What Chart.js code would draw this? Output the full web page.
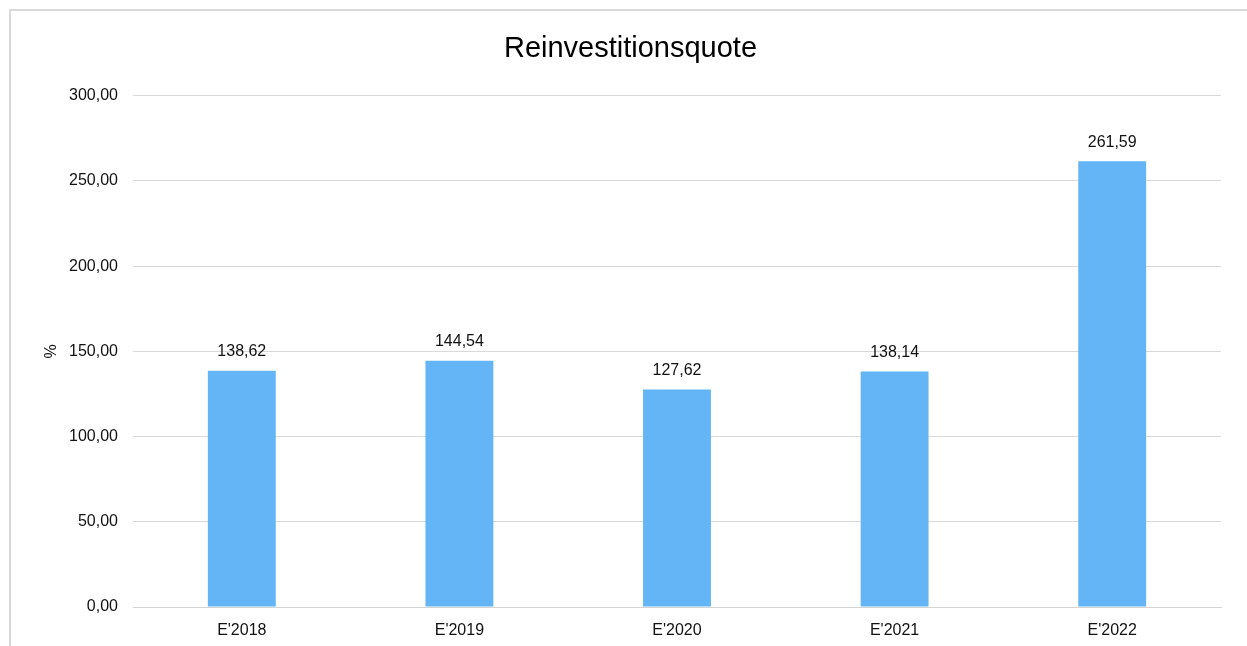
<!DOCTYPE html>
<html>
<head>
<meta charset="utf-8">
<script src="https://cdn.jsdelivr.net/npm/chart.js@4/dist/chart.umd.min.js"></script>
<style>
  html, body { margin: 0; padding: 0; background: #fff; }
  #frame {
    position: absolute; left: 9px; top: 9px; width: 1300px; height: 700px;
    border-left: 2px solid #d9d9d9; border-top: 2px solid #d9d9d9;
  }
  #wrap { position: absolute; left: 0; top: 0; width: 1247px; height: 646px; }
</style>
</head>
<body>
<div id="frame"></div>
<div id="wrap"><canvas id="chart"></canvas></div>
<script>
const categories = ["E'2018", "E'2019", "E'2020", "E'2021", "E'2022"];
const quote = [138.62, 144.54, 127.62, 138.14, 261.59];
const yTicks = [0, 50, 100, 150, 200, 250, 300];

const FONT = '"Liberation Sans", Arial, sans-serif';
const fmt = (v) => v.toFixed(2).replace('.', ',');

// draws the value above each bar
const barLabels = {
    id: 'barLabels',
    afterDatasetsDraw(chart) {
        const ctx = chart.ctx;
        ctx.save();
        ctx.font = '16px ' + FONT;
        ctx.fillStyle = '#111';
        ctx.textAlign = 'center';
        ctx.textBaseline = 'middle';
        chart.getDatasetMeta(0).data.forEach((bar, i) => {
            ctx.fillText(fmt(quote[i]), bar.x, bar.y - 19);
        });
        ctx.restore();
    }
};

const ctx = document.getElementById('chart').getContext('2d');
new Chart(ctx, {
    type: 'bar',
    data: {
        labels: categories,
        datasets: [{
            label: 'Reinvestitionsquote',
            data: quote,
            backgroundColor: '#63b5f6',
            categoryPercentage: 1,
            barPercentage: 0.312
        }]
    },
    options: {
        responsive: true,
        maintainAspectRatio: false,
        animation: false,
        layout: { padding: { left: 40, right: 26, top: 0, bottom: 0 } },
        plugins: {
            legend: { display: false },
            tooltip: { enabled: false },
            title: {
                display: true,
                text: 'Reinvestitionsquote',
                color: '#000',
                font: { family: FONT, size: 29, weight: 'normal' },
                padding: { top: 32, bottom: 29 }
            }
        },
        scales: {
            x: {
                afterFit: (axis) => { axis.height = 39; },
                grid: { display: false, drawTicks: false },
                border: { color: '#d4d4d4', width: 1 },
                ticks: {
                    color: '#111',
                    padding: 14,
                    font: { family: FONT, size: 16 }
                }
            },
            y: {
                min: 0,
                max: 300,
                afterBuildTicks: (axis) => { axis.ticks = yTicks.map(v => ({ value: v })); },
                afterFit: (axis) => { axis.width = 93; },
                grid: { color: '#d9d9d9', drawTicks: false },
                border: { display: false },
                title: {
                    display: true,
                    text: '%',
                    color: '#111',
                    font: { family: FONT, size: 16 },
                    padding: { top: 2, bottom: 0 }
                },
                ticks: {
                    color: '#111',
                    padding: 15,
                    font: { family: FONT, size: 16 },
                    callback: (v) => fmt(v)
                }
            }
        }
    },
    plugins: [barLabels]
});
</script>
</body>
</html>
